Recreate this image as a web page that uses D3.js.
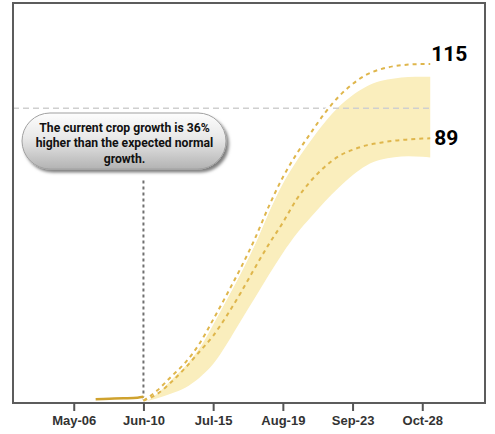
<!DOCTYPE html>
<html>
<head>
<meta charset="utf-8">
<script src="https://cdn.jsdelivr.net/npm/d3@7"></script>
<style>
  html, body { margin: 0; padding: 0; background: #fff; }
  svg { display: block; }
</style>
</head>
<body>
<svg id="chart" width="495" height="434"></svg>
<script>
// ---------------- DATA ----------------
const tickDates = ["2021-05-06", "2021-06-10", "2021-07-15", "2021-08-19", "2021-09-23", "2021-10-28"];

const forecastDates = ["2021-06-10","2021-06-17","2021-06-24","2021-07-01","2021-07-08","2021-07-15",
  "2021-07-22","2021-07-29","2021-08-05","2021-08-12","2021-08-19","2021-08-26","2021-09-02",
  "2021-09-09","2021-09-16","2021-09-23","2021-09-30","2021-10-07","2021-10-14","2021-10-21",
  "2021-10-28","2021-11-01"];

const upperTrend = [0.8, 4.3, 9.0, 13.7, 20.0, 28.3, 37.0, 46.0, 55.8, 66.8, 76.6, 84.6, 91.6,
  98.3, 103.9, 108.2, 111.4, 113.2, 114.3, 114.8, 115.0, 115.0];
const lowerTrend = [0.8, 3.1, 7.1, 11.9, 17.3, 22.8, 29.8, 37.6, 45.9, 53.9, 61.2, 69.2, 75.3,
  80.1, 83.7, 85.9, 87.4, 88.3, 89.0, 89.4, 89.7, 89.8];
const bandTop = [0.8, 4.1, 8.6, 13.0, 19.0, 27.0, 35.4, 44.2, 53.8, 64.8, 74.4, 82.2, 89.0,
  95.2, 100.4, 104.4, 107.4, 109.2, 110.1, 110.6, 110.7, 110.7];
const bandBottom = [0.4, 1.6, 3.2, 5.2, 8.5, 13.2, 20.2, 28.0, 35.7, 43.5, 50.9, 57.5, 63.0,
  68.3, 73.0, 77.3, 80.6, 82.5, 83.4, 83.7, 83.5, 83.3];

const currentDates = ["2021-05-17", "2021-05-24", "2021-05-31", "2021-06-07", "2021-06-10"];
const currentValues = [1.3, 1.45, 1.6, 1.8, 2.1];

const normalMax = 100;          // grey dashed reference level
const markerDate = "2021-06-10"; // vertical dashed marker
const markerTop = 75.5;
const endLabels = ["115", "89"];
const noteLines = ["The current crop growth is 36%", "higher than the expected normal", "growth."];

// ---------------- CHART ----------------
const parse = d3.utcParse("%Y-%m-%d");
const svg = d3.select("#chart");
const pLeft = 13, pRight = 485, pTop = 3, pBottom = 403;

const x = d3.scaleUtc()
  .domain([new Date(Date.UTC(2021, 3, 5, 12)), new Date(Date.UTC(2021, 10, 28, 12))])
  .range([pLeft, pRight]);
const y = d3.scaleLinear().domain([0, 135.7]).range([pBottom, pTop]);

const defs = svg.append("defs");
const grad = defs.append("linearGradient").attr("id", "pill").attr("x1", 0).attr("y1", 0).attr("x2", 0).attr("y2", 1);
grad.append("stop").attr("offset", "0%").attr("stop-color", "#fdfdfd");
grad.append("stop").attr("offset", "45%").attr("stop-color", "#e8e8e8");
grad.append("stop").attr("offset", "100%").attr("stop-color", "#b3b3b3");
const shadow = defs.append("filter").attr("id", "shadow").attr("x", "-20%").attr("y", "-30%").attr("width", "140%").attr("height", "170%");
shadow.append("feDropShadow").attr("dx", 2.5).attr("dy", 3).attr("stdDeviation", 1.6)
  .attr("flood-color", "#000").attr("flood-opacity", 0.5);

const fc = forecastDates.map((d, i) => ({
  date: parse(d), up: upperTrend[i], lo: lowerTrend[i], top: bandTop[i], bot: bandBottom[i]
}));
const cur = currentDates.map((d, i) => ({ date: parse(d), v: currentValues[i] }));

// band
svg.append("path")
  .datum(fc)
  .attr("fill", "#faeebd")
  .attr("d", d3.area().curve(d3.curveMonotoneX)
    .x(d => x(d.date)).y0(d => y(d.bot)).y1(d => y(d.top)));

// normal max reference line
svg.append("line")
  .attr("x1", x.range()[0]).attr("x2", x(fc[fc.length - 1].date))
  .attr("y1", y(normalMax)).attr("y2", y(normalMax))
  .attr("stroke", "#cfcfcf").attr("stroke-width", 1.5).attr("stroke-dasharray", "6,4");

// vertical marker
svg.append("line")
  .attr("x1", x(parse(markerDate))).attr("x2", x(parse(markerDate)))
  .attr("y1", y(markerTop)).attr("y2", y(0))
  .attr("stroke", "#707070").attr("stroke-width", 2).attr("stroke-dasharray", "3,3");

const lineGen = key => d3.line().curve(d3.curveMonotoneX).x(d => x(d.date)).y(d => y(d[key]));

// upper trend with white halo
svg.append("path").datum(fc).attr("fill", "none").attr("stroke", "#fff").attr("stroke-width", 5)
  .attr("d", lineGen("up"));
svg.append("path").datum(fc).attr("fill", "none").attr("stroke", "#dfb64c").attr("stroke-width", 2)
  .attr("stroke-dasharray", "4,4").attr("d", lineGen("up"));
// lower trend
svg.append("path").datum(fc).attr("fill", "none").attr("stroke", "#dfb64c").attr("stroke-width", 2)
  .attr("stroke-dasharray", "4,4").attr("d", lineGen("lo"));

// current season
svg.append("path").datum(cur).attr("fill", "none").attr("stroke", "#cfa22e").attr("stroke-width", 2.5)
  .attr("d", lineGen("v"));

// end labels
const last = fc[fc.length - 1];
const labelVals = [last.up, last.lo];
const labelDy = [-3, 6.5];
const labelDx = [0, 3];
svg.selectAll("text.endlab").data(endLabels).join("text")
  .attr("class", "endlab")
  .attr("x", (d, i) => x(last.date) + 1 + labelDx[i])
  .attr("y", (d, i) => y(labelVals[i]) + labelDy[i])
  .attr("font-family", "Roboto, sans-serif").attr("font-weight", 700).attr("font-size", 21)
  .attr("fill", "#000")
  .text(d => d);

// frame
svg.append("rect").attr("x", pLeft).attr("y", pTop).attr("width", pRight - pLeft).attr("height", pBottom - pTop)
  .attr("fill", "none").attr("stroke", "#5c5c5c").attr("stroke-width", 2);

// x axis
const axis = d3.axisBottom(x).tickValues(tickDates.map(parse)).tickFormat(d3.utcFormat("%b-%d"))
  .tickSize(8).tickPadding(5);
const ax = svg.append("g").attr("transform", `translate(0,${pBottom})`).call(axis);
ax.select(".domain").remove();
ax.selectAll(".tick line").attr("stroke", "#555").attr("stroke-width", 2);
ax.selectAll(".tick text").attr("font-family", "'Liberation Sans', Arial, sans-serif")
  .attr("font-weight", 700).attr("font-size", 13).attr("fill", "#333");

// annotation pill
const note = svg.append("g");
note.append("rect").attr("x", 22).attr("y", 113).attr("width", 204).attr("height", 56).attr("rx", 28)
  .attr("fill", "url(#pill)").attr("stroke", "#a0a0a0").attr("stroke-width", 1).attr("filter", "url(#shadow)");
note.selectAll("text").data(noteLines).join("text")
  .attr("x", 124.5).attr("y", (d, i) => 131.5 + i * 15.5)
  .attr("text-anchor", "middle")
  .attr("font-family", "Roboto, sans-serif").attr("font-weight", 700).attr("font-size", 12.2)
  .attr("fill", "#111").text(d => d);
</script>
</body>
</html>
